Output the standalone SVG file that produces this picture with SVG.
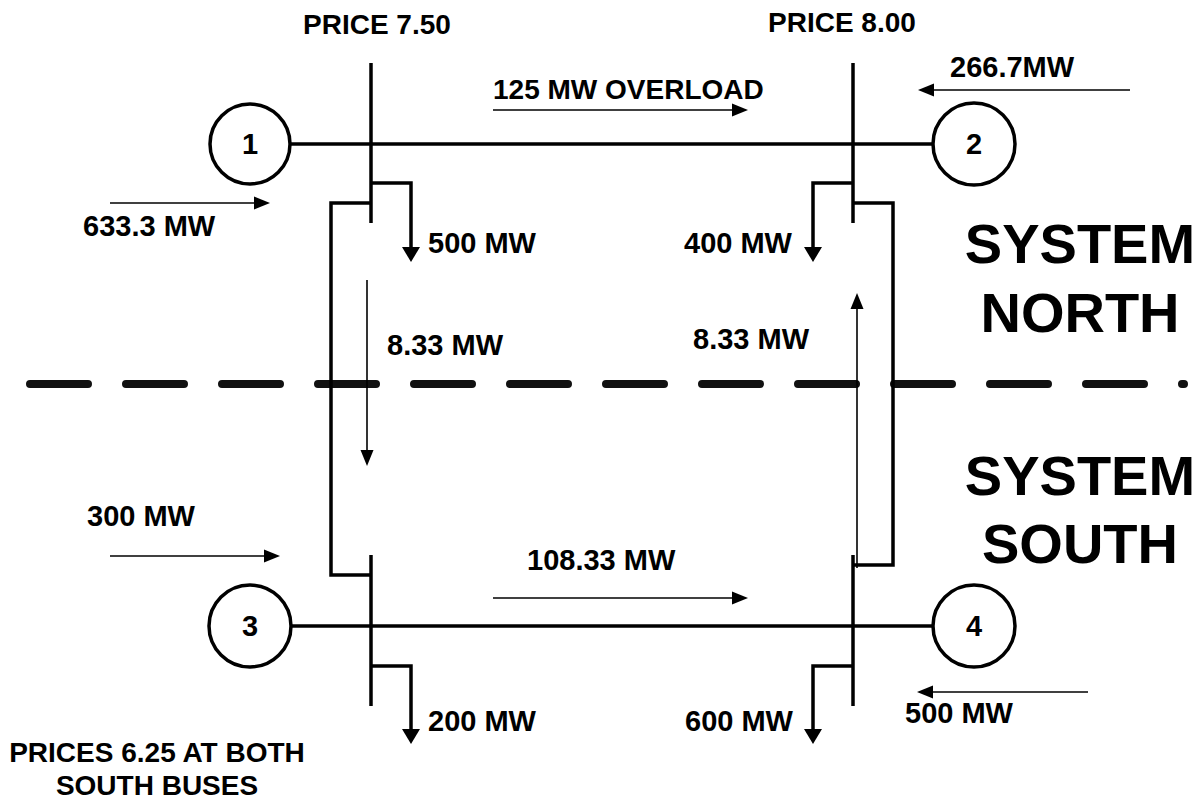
<svg xmlns="http://www.w3.org/2000/svg" width="1198" height="799" viewBox="0 0 1198 799">
<style>
.t{font-family:"Liberation Sans",Arial,Helvetica,sans-serif;font-weight:bold;font-size:29px;fill:#000}
.s{font-size:28px}
.e{text-anchor:end}
.m{text-anchor:middle}
.big{font-family:"Liberation Sans",Arial,Helvetica,sans-serif;font-weight:bold;font-size:56px;fill:#000;text-anchor:middle}
.num{font-family:"Liberation Sans",Arial,Helvetica,sans-serif;font-weight:bold;font-size:29px;fill:#000;text-anchor:middle}
.bus{fill:#fff;stroke:#000;stroke-width:3.5}
.w{fill:none;stroke:#000;stroke-width:3.5;stroke-linecap:butt;stroke-linejoin:miter}
.load{fill:none;stroke:#000;stroke-width:3.5;marker-end:url(#ah)}
.flow{fill:none;stroke:#000;stroke-width:1.6;marker-end:url(#fh)}
.dash{fill:none;stroke:#111;stroke-width:8;stroke-linecap:round;stroke-dasharray:58 38}
</style>
<defs>
<marker id="ah" markerUnits="userSpaceOnUse" markerWidth="16" markerHeight="18" refX="0" refY="9" orient="auto" overflow="visible">
<path d="M0,0 L15,9 L0,18 z" fill="#000"/>
</marker>
<marker id="fh" markerUnits="userSpaceOnUse" markerWidth="16" markerHeight="13" refX="0" refY="6.5" orient="auto" overflow="visible">
<path d="M0,0 L16,6.5 L0,13 z" fill="#000"/>
</marker>
</defs>
<rect x="0" y="0" width="1198" height="799" fill="#fff"/>

<g id="divider">
<path class="dash" d="M30,384 H1184"/>
</g>

<g id="connectors">
<path class="w" d="M290,144 H932"/>
<path class="w" d="M292,626 H932"/>
<path class="w" d="M371,63 V223"/>
<path class="w" d="M853,63 V223"/>
<path class="w" d="M371,555 V706"/>
<path class="w" d="M853,555 V706"/>
<path class="w" d="M371,203 H331 V575 H371"/>
<path class="w" d="M853,203 H893 V565 H853"/>
<path class="load" d="M371,183 H411 V247"/>
<path class="load" d="M853,183 H813 V247"/>
<path class="load" d="M371,666 H411 V729"/>
<path class="load" d="M853,666 H813 V729"/>
<path class="flow" d="M493,110 H732"/>
<path class="flow" d="M1130,90 H934"/>
<path class="flow" d="M110,203 H254"/>
<path class="flow" d="M367,280 V450"/>
<path class="flow" d="M857,568 V309"/>
<path class="flow" d="M110,556 H264"/>
<path class="flow" d="M493,598 H732"/>
<path class="flow" d="M1088,692 H933"/>
</g>

<g id="node1"><circle class="bus" cx="250" cy="144" r="40"/><text class="num" x="250" y="154">1</text></g>
<g id="node2"><circle class="bus" cx="974" cy="144" r="41"/><text class="num" x="974" y="154">2</text></g>
<g id="node3"><circle class="bus" cx="250" cy="626" r="41"/><text class="num" x="250" y="636">3</text></g>
<g id="node4"><circle class="bus" cx="974" cy="626" r="41"/><text class="num" x="974" y="636">4</text></g>

<g id="labels">
<text class="t s" x="303" y="34">PRICE 7.50</text>
<text class="t s" x="768" y="32">PRICE 8.00</text>
<text class="t s" x="493" y="99">125 MW OVERLOAD</text>
<text class="t" x="950" y="77">266.7MW</text>
<text class="t" x="83" y="236">633.3 MW</text>
<text class="t" x="428" y="253">500 MW</text>
<text class="t e" x="792" y="253">400 MW</text>
<text class="t" x="387" y="355">8.33 MW</text>
<text class="t" x="693" y="349">8.33 MW</text>
<text class="t" x="87" y="526">300 MW</text>
<text class="t" x="527" y="570">108.33 MW</text>
<text class="t" x="428" y="731">200 MW</text>
<text class="t e" x="793" y="731">600 MW</text>
<text class="t" x="905" y="723">500 MW</text>
<text class="t s m" x="157" y="762">PRICES 6.25 AT BOTH</text>
<text class="t s m" x="157" y="795">SOUTH BUSES</text>
<text class="big" x="1080" y="263">SYSTEM</text>
<text class="big" x="1080" y="332">NORTH</text>
<text class="big" x="1080" y="495">SYSTEM</text>
<text class="big" x="1080" y="563">SOUTH</text>
</g>
</svg>
